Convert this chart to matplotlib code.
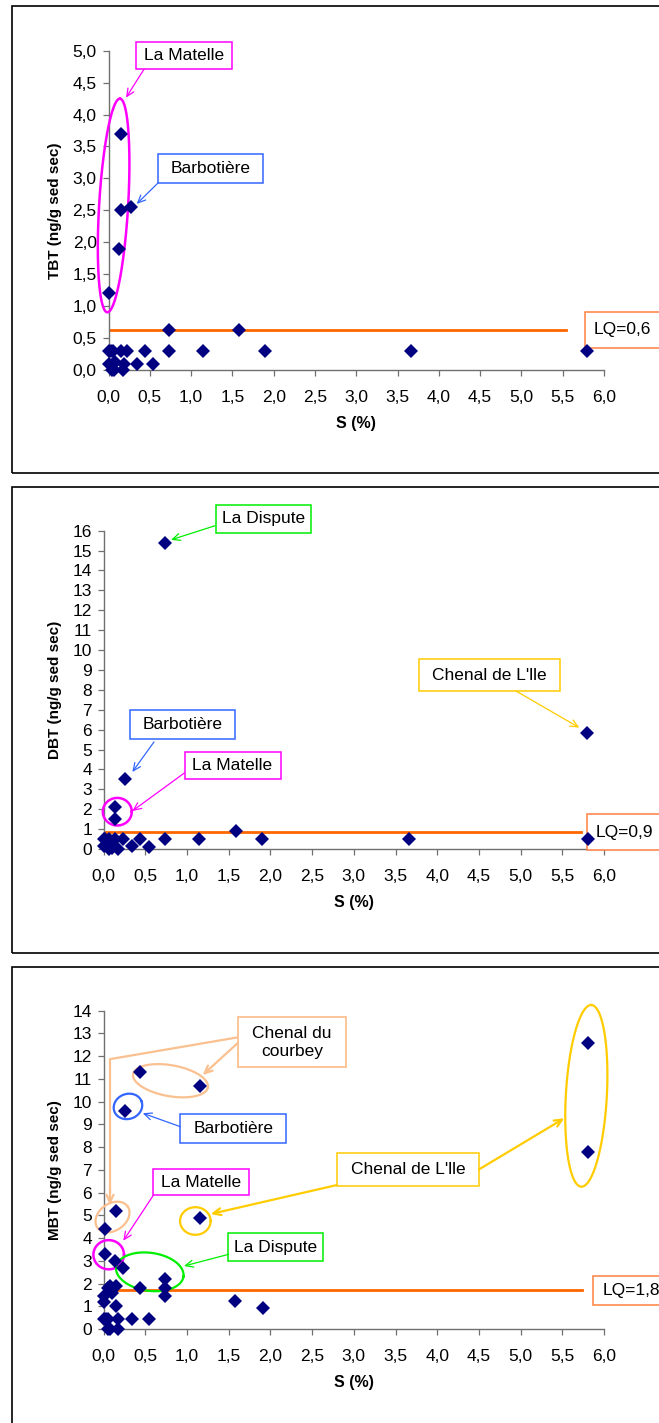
import numpy as np
import matplotlib
matplotlib.use('Agg')
import matplotlib.pyplot as plt
from matplotlib.patches import Rectangle

plt.rcParams['font.family'] = ['Liberation Sans', 'DejaVu Sans']

# S (%) on x, butyltins (ng/g sed sec) on y
tbt_s = [0.15, 0.15, 0.27, 0.13, 0.01, 0.73, 1.58, 0.0, 0.03, 0.06, 0.15, 0.23,
         0.44, 0.73, 1.15, 1.9, 3.66, 5.8, 0.0, 0.05, 0.08, 0.19, 0.34, 0.54,
         0.07, 0.17, 0.04]
tbt = [3.7, 2.5, 2.55, 1.9, 1.2, 0.62, 0.62, 0.3, 0.3, 0.3, 0.3, 0.3,
       0.3, 0.3, 0.3, 0.3, 0.3, 0.3, 0.1, 0.1, 0.12, 0.1, 0.1, 0.1,
       0.0, 0.0, 0.0]

dbt_s = [0.73, 0.26, 0.14, 0.14, 1.59, 5.80, 0.0, 0.02, 0.06, 0.14, 0.23, 0.44,
         0.73, 1.14, 1.9, 3.66, 5.81, 0.0, 0.04, 0.1, 0.34, 0.54, 0.06, 0.17, 0.1]
dbt = [15.4, 3.5, 2.1, 1.5, 0.92, 5.85, 0.5, 0.5, 0.5, 0.5, 0.5, 0.5,
       0.5, 0.5, 0.5, 0.5, 0.5, 0.15, 0.15, 0.2, 0.15, 0.12, 0.0, 0.0, 0.05]

mbt_s = [0.44, 1.15, 0.26, 0.15, 0.02, 1.15, 0.01, 0.14, 0.23, 0.74, 0.44, 0.73,
         0.73, 1.58, 1.91, 5.81, 5.81, 0.07, 0.15, 0.05, 0.0, 0.0, 0.15, 0.0,
         0.05, 0.17, 0.34, 0.54, 0.05, 0.08, 0.17, 0.03, 0.1]
mbt = [11.3, 10.7, 9.6, 5.2, 4.4, 4.9, 3.3, 3.0, 2.7, 2.2, 1.8, 1.8,
       1.47, 1.23, 0.92, 12.6, 7.8, 1.9, 1.9, 1.8, 1.45, 1.2, 1.0, 0.44,
       0.44, 0.44, 0.44, 0.44, 0.0, 0.0, 0.0, 0.44, 1.6]

# limite de quantification: drawn level, label, end of line
lq_y = [0.63, 0.84, 1.71]
lq_txt = ['LQ=0,6', 'LQ=0,9', 'LQ=1,8']
lq_end = [5.54, 5.72, 5.74]

x_ticks = np.arange(0, 6.01, 0.5)

W, H = 659, 1423
MAG = '#FF00FF'
BLUE = '#3366FF'
GREEN = '#00EE00'
GOLD = '#FFCC00'
PEACH = '#FAC090'
ORANGE = '#FF6600'

fig = plt.figure(figsize=(W / 100, H / 100), dpi=100)

# outer frames (right side runs past the image edge)
for top, bot in [(6, 473.3), (487.3, 953.3), (967.3, 1440)]:
    fig.add_artist(Rectangle((11.8 / W, 1 - bot / H), 1.0, (bot - top) / H,
                             transform=fig.transFigure, fill=False,
                             ec='black', lw=1.2))


def make_ax(left, right, top, bot, ymax, ystep, ylabel, comma):
    ax = fig.add_axes([left / W, 1 - bot / H, (right - left) / W, (bot - top) / H])
    ax.set_xlim(0, 6)
    ax.set_ylim(0, ymax)
    for s in ['top', 'right']:
        ax.spines[s].set_visible(False)
    for s in ['left', 'bottom']:
        ax.spines[s].set_color('#707070')
        ax.spines[s].set_linewidth(1.0)
    ax.set_xticks(x_ticks)
    ax.set_xticklabels([f'{v:.1f}'.replace('.', ',') for v in x_ticks])
    yt = np.arange(0, ymax + 0.001, ystep)
    ax.set_yticks(yt)
    if comma:
        ax.set_yticklabels([f'{v:.1f}'.replace('.', ',') for v in yt])
    else:
        ax.set_yticklabels([f'{v:.0f}' for v in yt])
    ax.tick_params(direction='out', length=4.5, width=0.9, color='#707070',
                   labelsize=12.5)
    ax.tick_params(axis='x', pad=10)
    ax.tick_params(axis='y', pad=4)
    ax.set_xlabel('S (%)', fontsize=11.5, fontweight='bold')
    ax.set_ylabel(ylabel, fontsize=11, fontweight='bold')
    ax.xaxis.set_label_coords(0.5, -0.143)
    ax.yaxis.set_label_coords((61.5 - left) / (right - left), 0.5)
    return ax


def scales(ax):
    bb = ax.get_window_extent()
    return (bb.width / np.diff(ax.get_xlim())[0],
            bb.height / np.diff(ax.get_ylim())[0])


def ring(ax, cx, cy, a, b, ang, color, lw=1.8):
    sx, sy = scales(ax)
    t = np.linspace(0, 2 * np.pi, 200)
    th = np.radians(ang)
    dx = a * np.cos(t) * np.cos(th) - b * np.sin(t) * np.sin(th)
    dy = a * np.cos(t) * np.sin(th) + b * np.sin(t) * np.cos(th)
    ax.plot(cx + dx / sx, cy + dy / sy, color=color, lw=lw, clip_on=False, zorder=3)


def tag(ax, txt, cx, cy, w, h, color, lw=1.1):
    sx, sy = scales(ax)
    ax.add_patch(Rectangle((cx - w / 2 / sx, cy - h / 2 / sy), w / sx, h / sy,
                           fc='white', ec=color, lw=lw, clip_on=False, zorder=4))
    ax.text(cx, cy, txt, ha='center', va='center', fontsize=12.5,
            linespacing=1.25, zorder=5)


def arrow(ax, x0, y0, x1, y1, color, lw=0.9):
    ax.annotate('', xy=(x1, y1), xytext=(x0, y0), annotation_clip=False,
                arrowprops=dict(arrowstyle='->,head_length=0.55,head_width=0.25',
                                color=color, lw=lw, shrinkA=0, shrinkB=0),
                zorder=6)


def lq(ax, i, left_px, h):
    sx, sy = scales(ax)
    ax.plot([0, lq_end[i]], [lq_y[i], lq_y[i]], color=ORANGE, lw=2.0, zorder=2)
    ax.add_patch(Rectangle((left_px / sx, lq_y[i] - h / 2 / sy), 100 / sx, h / sy,
                           fc='white', ec='#FF8040', lw=1.1, clip_on=False, zorder=4))
    ax.text(left_px / sx + 9 / sx, lq_y[i], lq_txt[i], ha='left', va='center',
            fontsize=12.5, zorder=5)


def points(ax, xs, ys):
    ax.plot(xs, ys, 'D', color='#000080', ms=6.8, mew=0, clip_on=False, zorder=5)


# ---- TBT ----
ax1 = make_ax(108.5, 604, 50.7, 370, 5, 0.5, 'TBT (ng/g sed sec)', True)
points(ax1, tbt_s, tbt)
lq(ax1, 0, 476.5, 36)
ring(ax1, 0.062, 2.576, 107, 14.5, 86.6, MAG, lw=1.8)
tag(ax1, 'La Matelle', 0.914, 4.92, 96, 27, MAG)
arrow(ax1, 0.43, 4.71, 0.212, 4.264, MAG)
tag(ax1, 'Barbotière', 1.235, 3.155, 105, 29, BLUE)
arrow(ax1, 0.599, 2.928, 0.341, 2.6, BLUE)

# ---- DBT ----
ax2 = make_ax(103.7, 604, 530.7, 849, 16, 1, 'DBT (ng/g sed sec)', False)
points(ax2, dbt_s, dbt)
lq(ax2, 1, 483.3, 36)
tag(ax2, 'La Dispute', 1.913, 16.6, 95, 28, GREEN)
arrow(ax2, 1.335, 16.25, 0.807, 15.54, GREEN)
tag(ax2, "Chenal de L'lle", 4.621, 8.74, 141, 32, GOLD)
arrow(ax2, 4.945, 7.94, 5.704, 6.10, GOLD)
tag(ax2, 'Barbotière', 0.947, 6.25, 105, 29, BLUE)
arrow(ax2, 0.603, 5.38, 0.343, 3.87, BLUE)
tag(ax2, 'La Matelle', 1.545, 4.2, 96, 27, MAG)
arrow(ax2, 0.967, 3.82, 0.343, 1.91, MAG)
ring(ax2, 0.163, 1.875, 14.5, 13.8, 0, MAG, lw=1.8)

# ---- MBT ----
ax3 = make_ax(103.7, 604, 1010.7, 1329, 14, 1, 'MBT (ng/g sed sec)', False)
points(ax3, mbt_s, mbt)
lq(ax3, 2, 489.6, 29)
# Chenal du courbey
ring(ax3, 0.801, 10.92, 38, 15.5, -10, PEACH, lw=1.6)
ring(ax3, 0.1055, 4.925, 18.5, 13.5, 35, PEACH, lw=1.6)
ax3.plot([1.611, 0.0756, 0.0756], [12.83, 11.87, 6.0], color=PEACH, lw=1.6,
         clip_on=False, zorder=3)
arrow(ax3, 0.0756, 6.2, 0.0756, 5.45, PEACH, lw=1.6)
arrow(ax3, 1.611, 12.59, 1.187, 11.17, PEACH, lw=1.6)
tag(ax3, 'Chenal du\ncourbey', 2.258, 12.61, 108, 50, PEACH, lw=1.3)
# Barbotière
ring(ax3, 0.291, 9.79, 14.5, 12.5, 20, BLUE, lw=1.6)
tag(ax3, 'Barbotière', 1.554, 8.84, 106, 29, BLUE)
arrow(ax3, 0.919, 8.9, 0.468, 9.49, BLUE)
# La Matelle
ring(ax3, 0.06, 3.267, 15.3, 14.6, 0, MAG, lw=1.8)
tag(ax3, 'La Matelle', 1.171, 6.45, 96, 26, MAG)
arrow(ax3, 0.595, 5.88, 0.235, 3.88, MAG)
# La Dispute
ring(ax3, 0.553, 2.515, 34, 19, -8, GREEN, lw=1.6)
tag(ax3, 'La Dispute', 2.066, 3.593, 95, 28, GREEN)
arrow(ax3, 1.499, 3.285, 0.963, 2.77, GREEN)
# Chenal de L'lle
ring(ax3, 1.099, 4.75, 15.3, 13.8, 0, GOLD, lw=1.6)
ring(ax3, 5.788, 10.255, 91, 20.5, 86.8, GOLD, lw=1.6)
tag(ax3, "Chenal de L'lle", 3.648, 7.036, 142, 33, GOLD)
arrow(ax3, 2.794, 6.33, 1.283, 5.057, GOLD, lw=1.6)
arrow(ax3, 4.501, 7.02, 5.524, 9.27, GOLD, lw=1.6)

fig.savefig('out.png', dpi=100)
